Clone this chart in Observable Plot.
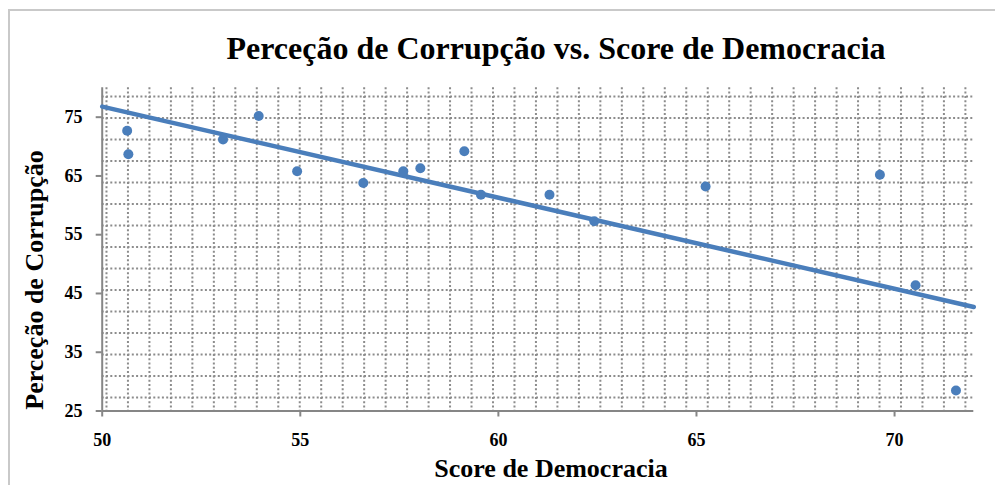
<!DOCTYPE html>
<html><head><meta charset="utf-8">
<script src="https://cdn.jsdelivr.net/npm/d3@7"></script>
<script src="https://cdn.jsdelivr.net/npm/@observablehq/plot@0.6"></script>
<style>
body{margin:0;background:#fff;}
#wrap{position:relative;width:995px;height:485px;overflow:hidden;font-family:"Liberation Serif","Times New Roman",serif;color:#000;}
#border{position:absolute;left:8px;top:9px;width:1000px;height:500px;border-left:2px solid #c9c9c9;border-top:2px solid #c9c9c9;pointer-events:none;}
#title{height:80px;position:relative;}
.t{position:absolute;white-space:nowrap;font-weight:bold;line-height:1;}
#title .t{left:556px;top:32px;transform:translateX(-50%);font-size:32px;}
#xlab{left:551px;top:456px;transform:translateX(-50%);font-size:26px;}
#ylab{left:35px;top:280px;transform:translate(-50%,-50%) rotate(-90deg);font-size:26px;}
#chart svg{display:block;}
#chart svg text{font-family:"Liberation Serif","Times New Roman",serif !important;font-weight:bold !important;font-size:18px !important;fill:#000;}
</style>
</head><body>
<div id="wrap">
  <div id="border"></div>
  <div id="title"><div class="t">Perceção de Corrupção vs. Score de Democracia</div></div>
  <div id="chart"></div>
  <div class="t" id="xlab">Score de Democracia</div>
  <div class="t" id="ylab">Perceção de Corrupção</div>
</div>
<script>
// Data
const score = [50.63, 50.66, 53.05, 53.95, 54.92, 56.59, 57.60, 58.03, 59.14, 59.56, 61.29, 62.42, 65.23, 69.63, 70.53, 71.55];
const corruption = [72.7, 68.7, 71.2, 75.2, 65.8, 63.8, 65.8, 66.3, 69.2, 61.8, 61.8, 57.3, 63.2, 65.2, 46.4, 28.5];
// Trendline endpoints as drawn in the reference (Excel linear trendline)
const trendX = [50, 72];
const trendY = [76.8, 42.7];
const xTicks = [50, 55, 60, 65, 70];
const yTicks = [25, 35, 45, 55, 65, 75];
const xDomain = [50, 72];
const yDomain = [25, 80];

const points = score.map((s, i) => ({score: s, corruption: corruption[i]}));
const trend = trendX.map((x, i) => ({score: x, corruption: trendY[i]}));

// decorative dotted background grid (Excel "dotted grid" pattern fill)
const patX = d3.range(50.108, 72, 0.542);
const patY = d3.range(78.52, 25.5, -3.659);

const blue = "#4a7ebb";
const axisGray = "#868686";

const chart = Plot.plot({
  width: 995,
  height: 405,
  marginLeft: 101.7,
  marginRight: 21.7,
  marginTop: 7.3,
  marginBottom: 74.5,
  x: {domain: xDomain},
  y: {domain: yDomain},
  style: {fontFamily: "'Liberation Serif', 'Times New Roman', serif", fontSize: "18px", fontWeight: "bold", color: "#000", background: "transparent", overflow: "visible"},
  marks: [
    Plot.gridX(patX, {stroke: "#8c8c8c", strokeOpacity: 1, strokeWidth: 2, strokeDasharray: "2,2.3"}),
    Plot.gridY(patY, {stroke: "#8c8c8c", strokeOpacity: 1, strokeWidth: 2, strokeDasharray: "2,2.3"}),
    Plot.ruleX([xDomain[0]], {stroke: axisGray, strokeWidth: 2}),
    Plot.ruleY([yDomain[0]], {stroke: axisGray, strokeWidth: 2}),
    Plot.axisX(xTicks, {tickSize: 6, tickPadding: 16.5, stroke: axisGray, strokeWidth: 2, fill: "#000", label: null, fontSize: 18, fontWeight: "bold"}),
    Plot.axisY(yTicks, {tickSize: 6, tickPadding: 13.7, stroke: axisGray, strokeWidth: 2, fill: "#000", label: null, fontSize: 18, fontWeight: "bold"}),
    Plot.line(trend, {x: "score", y: "corruption", stroke: blue, strokeWidth: 4.5}),
    Plot.dot(points, {x: "score", y: "corruption", r: 5, fill: blue, stroke: "none"})
  ]
});
document.getElementById("chart").appendChild(chart);
</script>
</body></html>
